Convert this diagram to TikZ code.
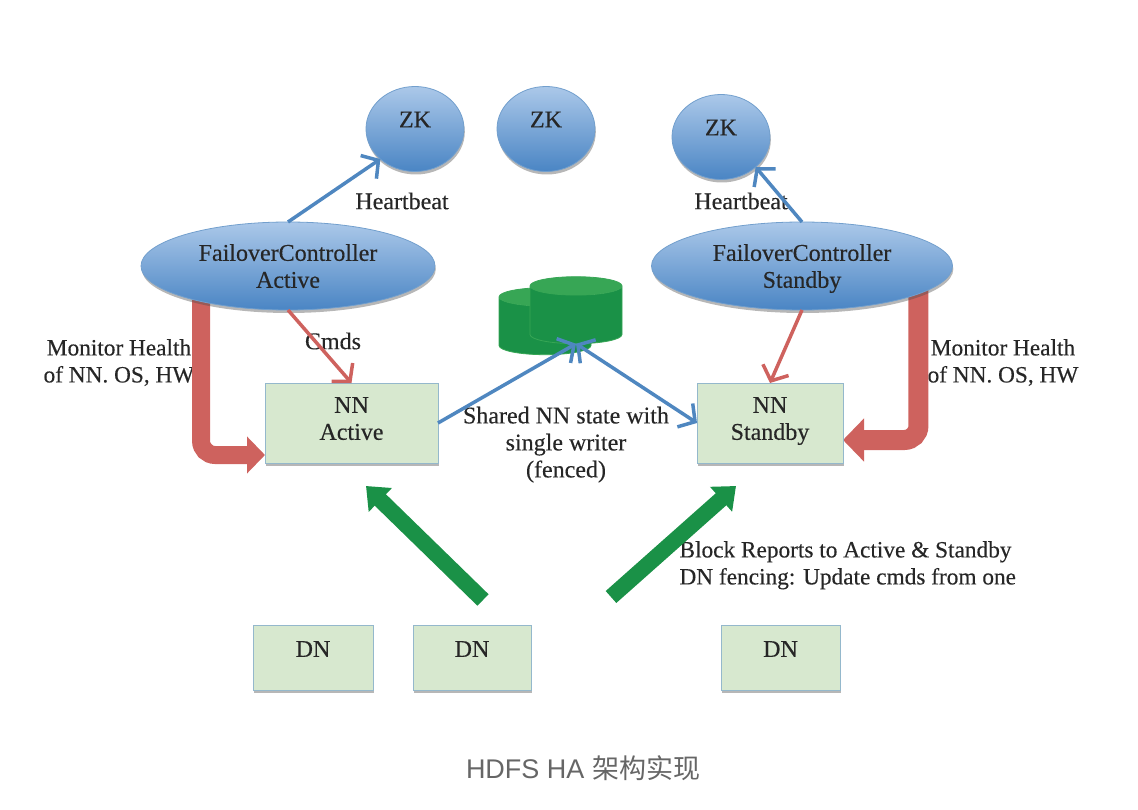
\documentclass[tikz,border=0pt]{standalone}
\usepackage{fontspec}
\setmainfont[FakeBold=0.3]{Liberation Serif}
\newfontfamily\capsans{Liberation Sans}
\newfontfamily\capcjk{Noto Sans CJK SC}
\usepackage{color}
\usetikzlibrary{arrows.meta,shapes.geometric,shadows,backgrounds}
\usetikzlibrary{positioning}

\definecolor{zkblue}{HTML}{4F87C0}
\definecolor{zklight}{HTML}{ABC8E9}
\definecolor{zkdark}{HTML}{4A85C4}
\definecolor{boxgreen}{HTML}{D7E8CF}
\definecolor{boxedge}{HTML}{94B8CC}
\definecolor{linkred}{HTML}{CE625E}
\definecolor{diskgreen}{HTML}{1A9147}
\definecolor{disktop}{HTML}{37A655}
\definecolor{inkdark}{HTML}{262626}

\tikzset{
  softshadow/.style={drop shadow={shadow xshift=0.8pt,shadow yshift=-3pt,opacity=0.4,fill=black!70}},
  blobnode/.style={ellipse,draw=zkblue!80,line width=0.8pt,top color=zklight,bottom color=zkdark,
    softshadow,inner sep=0pt,outer sep=0pt,text=inkdark},
  zknode/.style={blobnode,minimum width=98pt,minimum height=85pt,text depth=19pt},
  fcnode/.style={blobnode,minimum height=88pt,text height=39pt},
  greenbox/.style={rectangle,draw=boxedge,line width=1pt,fill=boxgreen,softshadow,
    inner sep=0pt,outer sep=0pt,text=inkdark},
  nnbox/.style={greenbox,minimum height=80pt,text depth=25pt},
  dnbox/.style={greenbox,minimum height=65pt,text depth=17pt},
  disk/.style={cylinder,shape border rotate=90,aspect=0.2,cylinder uses custom fill,
    cylinder body fill=diskgreen,cylinder end fill=disktop,draw=disktop,line width=0.8pt,
    minimum height=67pt,inner sep=0pt,outer sep=0pt},
  caption/.style={text=inkdark},
  smallcaption/.style={text=inkdark,font=\fontsize{23.3}{27}\selectfont},
  bluelink/.style={draw=zkblue,line width=3.5pt},
  redlink/.style={draw=linkred,line width=3.5pt},
  fatred/.style={draw=linkred,rounded corners=14pt},
  fatgreen/.style={draw=diskgreen,line width=16pt,-{Triangle[width=32pt,length=20pt]}}
}
\newcommand{\diskbody}{\phantom{\rule{92pt}{10pt}}}

\begin{document}
\begin{tikzpicture}[x=1pt,y=-1pt,->,>={Straight Barb[length=12pt,width=28pt]},
    font=\fontsize{24}{27}\selectfont]
    \useasboundingbox (0,0) rectangle (1138,810);

    % ZOOKEEPER
    \node[zknode] (ZK_1) at (415,129) {ZK};
    \node[zknode] (ZK_2) at (546,129) {ZK};
    \node[zknode] (ZK_3) at (721,137) {ZK};

    % CONTROLLERS
    \node[fcnode,minimum width=294pt] (FC_ACTIVE) at (288,266)
    {
      \begin{tabular}{c}
        FailoverController \\
        Active
      \end{tabular}
    };
    \node[fcnode,minimum width=301pt] (FC_STANDBY) at (802,266)
    {
      \begin{tabular}{c}
        FailoverController \\
        Standby
      \end{tabular}
    };

    % NAMENODES
    \node[nnbox,minimum width=173pt] (NN_ACTIVE) at (351.5,423)
    {
      \begin{tabular}{c}
        NN \\
        Active
      \end{tabular}
    };
    \node[nnbox,minimum width=146pt] (NN_STANDBY) at (770,423)
    {
      \begin{tabular}{c}
        NN \\
        Standby
      \end{tabular}
    };

    % SHARED STORAGE
    \node[disk] (DISK_BACK) at (545,326) {\diskbody};
    \node[disk] (DISK_FRONT) at (576,315) {\diskbody};

    % DATANODES
    \node[dnbox,minimum width=120pt] (DN_1) at (313,657.5) {DN};
    \node[dnbox,minimum width=118pt] (DN_2) at (472,657.5) {DN};
    \node[dnbox,minimum width=119pt] (DN_3) at (780.5,657.5) {DN};

    % FREE ENDS
    \coordinate (REPORT_L_TAIL) at (483,600);
    \coordinate (REPORT_L_TIP) at (366,486);
    \coordinate (REPORT_R_TAIL) at (611,597);
    \coordinate (REPORT_R_TIP) at (736,486);

    % LABELS AND THICK LINES UNDER THE NODES
    \begin{scope}[on background layer]
      \node[smallcaption] (MONITOR_L) at (119,363.5)
      {
        \begin{tabular}{c}
          Monitor Health \\
          of NN. OS, HW
        \end{tabular}
      };
      \node[smallcaption] (MONITOR_R) at (1003,363.5)
      {
        \begin{tabular}{c}
          Monitor Health \\
          of NN. OS, HW
        \end{tabular}
      };
      \draw[fatred,line width=18pt,-{Triangle[width=36pt,length=18pt]}]
      ([xshift=17pt]FC_ACTIVE.south west) |- ([yshift=-32pt]NN_ACTIVE.west);
      \draw[fatred,line width=20pt,-{Triangle[width=42pt,length=21pt]}]
      ([xshift=10pt,yshift=8pt]FC_STANDBY.south east) |- ([yshift=-17pt]NN_STANDBY.east);
    \end{scope}

    % TEXT
    \node[caption] (BEAT_L) at (402,201) {Heartbeat};
    \node[caption] (BEAT_R) at (741,201) {Heartbeat};
    \node[caption] (CMDS) at (333,341) {Cmds};
    \node[caption] (SHARED) at (566,445)
    {
      \begin{tabular}{c}
        Shared NN state with \\
        single writer \\
        (fenced)
      \end{tabular}
    };
    \node[smallcaption,anchor=west] (REPORTS) at (670,565.5)
    {
      \begin{tabular}{l}
        Block Reports to Active \& Standby \\
        DN fencing: Update cmds from one
      \end{tabular}
    };
    \node[text=black!60,font=\fontsize{27}{30}\selectfont] (TITLE) at (583,768)
    {\capsans HDFS HA \capcjk 架构实现};

    % LINES
    \draw[bluelink] (FC_ACTIVE.north) -- (ZK_1.south west);
    \draw[bluelink] (FC_STANDBY.north) -- (ZK_3.south east);
    \draw[bluelink] (NN_ACTIVE.east) -- (DISK_FRONT.south);
    \draw[bluelink,<->] (NN_STANDBY.west) -- (DISK_FRONT.south);
    \draw[redlink] (FC_ACTIVE.south) -- (NN_ACTIVE.north);
    \draw[redlink] (FC_STANDBY.south) -- (NN_STANDBY.north);
    \draw[fatgreen] (REPORT_L_TAIL) -- (REPORT_L_TIP);
    \draw[fatgreen] (REPORT_R_TAIL) -- (REPORT_R_TIP);
  \end{tikzpicture}
\end{document}
